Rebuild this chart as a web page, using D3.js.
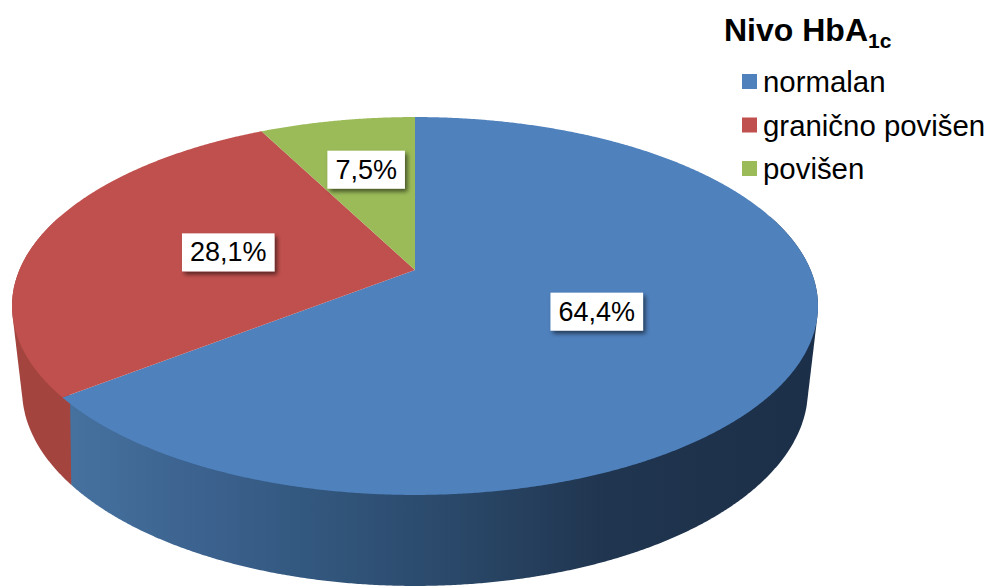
<!DOCTYPE html>
<html><head><meta charset="utf-8">
<script src="https://cdn.jsdelivr.net/npm/d3@7/dist/d3.min.js"></script>
<style>
html,body{margin:0;padding:0;background:#fff}
svg{display:block}
text{font-family:"Liberation Sans",Arial,sans-serif;fill:#000}
</style></head><body>
<svg id="c" width="989" height="586"></svg>
<script>
const categories = ["normalan", "granično povišen", "povišen"];
const values = [64.4, 28.1, 7.5];
const sliceColors = ["#4f81bd", "#c0504d", "#9bbb59"];
const legendTitle = "Nivo HbA";
const legendSubscript = "1c";

// projection of the tilted pie
const CX = 415, APEX_Y = 270, RX = 395.6, RY = 182.1, K = -0.1905;
const RIM_CY = 306, LOW_CY = 390, LOW_XS = 0.975, LOW_YS = 196 / 189;
const LABEL_R = [0.49, 0.485, 0.64];
const LABEL_DX = [0, -3, 4];

const svg = d3.select("#c");
const defs = svg.append("defs");
const grad = defs.append("linearGradient").attr("id", "wall")
  .attr("gradientUnits", "userSpaceOnUse").attr("x1", 64).attr("x2", 818).attr("y1", 0).attr("y2", 0);
[[0, "#46729f"], [0.18, "#3c628f"], [0.32, "#33587f"], [0.52, "#2a4869"], [0.72, "#20354f"], [1, "#1c2f49"]]
  .forEach(([o, c]) => grad.append("stop").attr("offset", o).attr("stop-color", c));
const sh = defs.append("filter").attr("id", "shadow").attr("x", "-20%").attr("y", "-20%").attr("width", "150%").attr("height", "160%");
sh.append("feDropShadow").attr("dx", 2.5).attr("dy", 3).attr("stdDeviation", 2).attr("flood-color", "#000").attr("flood-opacity", 0.55);

// unit-disc point at clockwise angle from the top -> picture plane
function project(theta, r = 1) {
  const u = r * Math.sin(theta), v = -r * Math.cos(theta), d = 1 + K * v;
  return [CX + RX * u / d, APEX_Y + RY * v / d];
}
function lower([x, y]) {
  return [CX + (x - CX) * LOW_XS, LOW_CY + (y - RIM_CY) * LOW_YS];
}
const line = d3.line();
const pie = d3.pie().sort(null).value(d => d)(values);
const arcPts = (a0, a1) => {
  const n = Math.max(2, Math.ceil((a1 - a0) / 0.005));
  return d3.range(n + 1).map(i => a0 + (a1 - a0) * i / n);
};

// side walls (front part only), each the hull of its upper and lower rim
const wallFrom = Math.PI * 0.4, wallTo = Math.PI * 1.6;
const wallColors = ["url(#wall)", "#a3443f", "#7d9647"];
pie.forEach((s, i) => {
  const a0 = Math.max(s.startAngle, wallFrom), a1 = Math.min(s.endAngle, wallTo);
  if (a1 <= a0) return;
  const top = arcPts(a0, a1).map(t => project(t));
  const hull = d3.polygonHull(top.concat(top.map(lower)));
  svg.append("path").attr("d", line(hull) + "Z").attr("fill", wallColors[i]);
});

// top face
pie.forEach((s, i) => {
  const pts = [project(0, 0)].concat(arcPts(s.startAngle, s.endAngle).map(t => project(t)));
  svg.append("path").attr("d", line(pts) + "Z").attr("fill", sliceColors[i]);
});

// data labels
const fmt = v => v.toFixed(1).replace(".", ",") + "%";
pie.forEach((s, i) => {
  const [x, y] = project((s.startAngle + s.endAngle) / 2, LABEL_R[i]);
  const g = svg.append("g").attr("transform", `translate(${x + LABEL_DX[i]},${y})`);
  const t = g.append("text").attr("text-anchor", "middle").attr("y", 10).attr("font-size", 27).text(fmt(values[i]));
  const w = t.node().getComputedTextLength() + 16;
  g.insert("rect", "text").attr("x", -w / 2).attr("y", -18).attr("width", w).attr("height", 38)
    .attr("fill", "#fff").attr("filter", "url(#shadow)");
});

// legend
const title = svg.append("text").attr("x", 724).attr("y", 41).attr("font-size", 32).attr("font-weight", "bold").text(legendTitle);
title.append("tspan").attr("font-size", 21).attr("dy", 7).text(legendSubscript);
const legendY = d3.scalePoint().domain(categories).range([92, 179]);
categories.forEach((c, i) => {
  const y = legendY(c);
  svg.append("rect").attr("x", 742).attr("y", y - 18).attr("width", 15).attr("height", 15).attr("fill", sliceColors[i]);
  svg.append("text").attr("x", 763).attr("y", y).attr("font-size", 29.4).text(c);
});
</script>
</body></html>
